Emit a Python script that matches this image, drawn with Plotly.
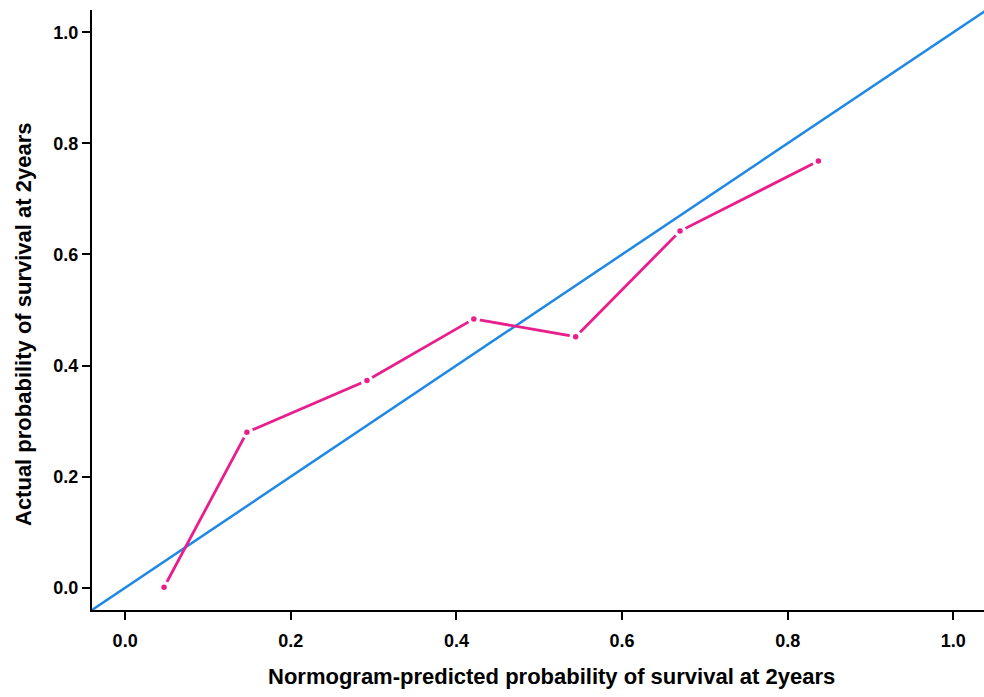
import plotly.graph_objects as go

# Calibration data
predicted = [0.047, 0.147, 0.292, 0.421, 0.544, 0.670, 0.837]
actual = [0.001, 0.280, 0.373, 0.484, 0.452, 0.642, 0.768]
ideal_x = [-0.04, 1.04]
ideal_y = [-0.04, 1.04]
tick_vals = [0.0, 0.2, 0.4, 0.6, 0.8, 1.0]
tick_text = ["0.0", "0.2", "0.4", "0.6", "0.8", "1.0"]
x_title = "Normogram-predicted probability of survival at 2years"
y_title = "Actual probability of survival at 2years"

BLUE = "#1E88E5"
PINK = "#E91E8C"
FONT = "Liberation Sans, Arial, sans-serif"

fig = go.Figure()
fig.add_trace(go.Scatter(x=ideal_x, y=ideal_y, mode="lines",
                         line=dict(color=BLUE, width=2.5), showlegend=False))
fig.add_trace(go.Scatter(x=predicted, y=actual, mode="lines+markers",
                         line=dict(color=PINK, width=2.8),
                         marker=dict(color=PINK, size=9,
                                     line=dict(color="white", width=3.5)),
                         showlegend=False))

axis_common = dict(
    tickvals=tick_vals, ticktext=tick_text,
    showgrid=False, zeroline=False, showline=True, linecolor="black", linewidth=2,
    ticks="outside", ticklen=8, tickwidth=2, tickcolor="black",
    tickfont=dict(family=FONT, size=18, color="black", weight="bold"),
)

fig.update_layout(
    width=984, height=697,
    margin=dict(l=92, r=0, t=10, b=87),
    plot_bgcolor="white", paper_bgcolor="white",
    font=dict(family=FONT, color="black"),
    xaxis=dict(**axis_common, range=[-0.04, 1.037], ticklabelstandoff=5),
    yaxis=dict(**axis_common, range=[-0.04, 1.04]),
    annotations=[
        dict(text="<b>" + x_title + "</b>", xref="paper", yref="paper",
             x=0.5146, y=0, yshift=-66, xanchor="center", yanchor="middle",
             showarrow=False, font=dict(family=FONT, size=22, color="black")),
        dict(text="<b>" + y_title + "</b>", xref="paper", yref="paper",
             x=0, y=0.475, xshift=-69, xanchor="center", yanchor="middle",
             textangle=-90, showarrow=False,
             font=dict(family=FONT, size=22, color="black")),
    ],
)

fig.write_html(
    "out.html",
    config={"displayModeBar": False},
    post_script="document.body.style.margin='0';"
                "document.documentElement.style.overflow='hidden';"
                "document.body.style.overflow='hidden';",
)
